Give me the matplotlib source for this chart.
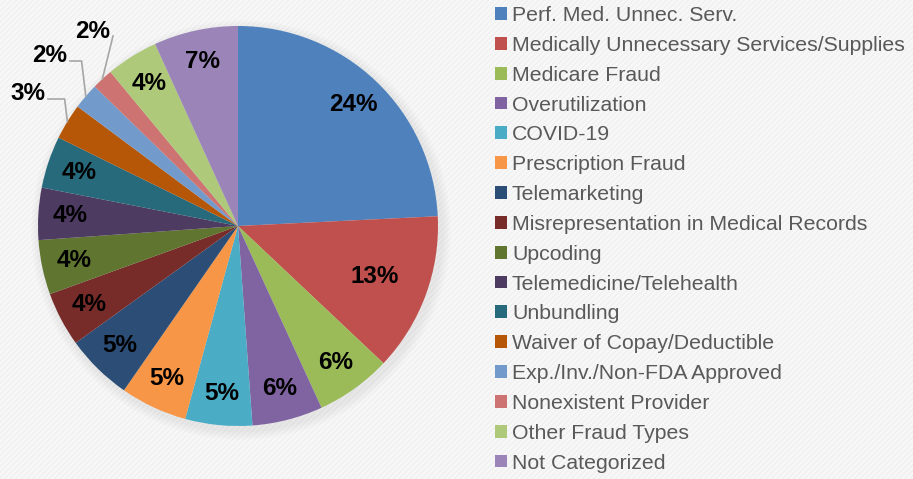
import matplotlib.pyplot as plt
import numpy as np
from matplotlib.patches import Rectangle, Circle

plt.rcParams['font.family'] = ['Liberation Sans', 'DejaVu Sans']
plt.rcParams['hatch.linewidth'] = 0.5
plt.rcParams['hatch.color'] = '#e9e9e9'

categories = ['Perf. Med. Unnec. Serv.', 'Medically Unnecessary Services/Supplies',
              'Medicare Fraud', 'Overutilization', 'COVID-19', 'Prescription Fraud',
              'Telemarketing', 'Misrepresentation in Medical Records', 'Upcoding',
              'Telemedicine/Telehealth', 'Unbundling', 'Waiver of Copay/Deductible',
              'Exp./Inv./Non-FDA Approved', 'Nonexistent Provider', 'Other Fraud Types',
              'Not Categorized']
shares = [24.2, 12.8, 6.1, 5.7, 5.4, 5.4, 5.4, 4.4, 4.4, 4.2, 4.2, 2.9, 2.1, 1.7, 4.2, 6.8]
colors = ['#4F81BD', '#C0504D', '#9BBB59', '#8064A2', '#4BACC6', '#F79646',
          '#2C4D75', '#772C2A', '#5F7530', '#4D3B62', '#276A7C', '#B65708',
          '#729ACA', '#CD7371', '#AFC97A', '#9A84B8']
# small slices get their labels outside with leader lines
outside = [11, 12, 13]
outside_pos = [(-1.05, 0.66), (-0.94, 0.85), (-0.725, 0.975)]

fig = plt.figure(figsize=(9.13, 4.79), dpi=100)
fig.patch.set_facecolor('#f6f6f6')
fig.patches.append(Rectangle((0, 0), 1, 1, transform=fig.transFigure,
                             facecolor='#f7f7f7', edgecolor='#ebebeb',
                             hatch='//////', linewidth=0, zorder=-10))

ax = fig.add_axes([38 / 913, 53 / 479, 400 / 913, 400 / 479])

# soft shadow
for i in range(4):
    ax.add_patch(Circle((0.015, -0.02), 1.0 + 0.012 * (i + 1), color='#808080',
                        alpha=0.03, lw=0, zorder=0, clip_on=False))

total = sum(shares)
wedges, texts = ax.pie(shares, colors=colors, startangle=90, counterclock=False,
                       radius=1, wedgeprops=dict(linewidth=0), labels=None)
for w in wedges:
    w.set_zorder(2)

ax.set_xlim(-1, 1)
ax.set_ylim(-1, 1)
ax.set_aspect('equal')
ax.axis('off')

k = 0
for i, w in enumerate(wedges):
    pct = '%d%%' % round(shares[i] / total * 100)
    mid = np.deg2rad((w.theta1 + w.theta2) / 2)
    if i in outside:
        tx, ty = outside_pos[k]
        k += 1
        ax.text(tx, ty, pct, ha='center', va='center', fontsize=17.5,
                fontweight='bold', color='black', zorder=5)
        ex, ey = np.cos(mid), np.sin(mid)
        sx, sy = tx + 0.1, ty - 0.025
        hx = max(sx, ex - 0.12 * abs(ey - sy))
        if ex - sx < 0.05:
            hx = sx
        ax.plot([sx, hx, ex], [sy, sy, ey], color='#a6a6a6', lw=1.2,
                zorder=4, clip_on=False)
    else:
        d = 0.73 if i == 1 else 0.84
        ax.text(d * np.cos(mid), d * np.sin(mid), pct, ha='center', va='center',
                fontsize=17.5, fontweight='bold', color='black', zorder=5)

fig.legend(wedges, categories, loc='upper left', bbox_to_anchor=(495 / 913, 1 - 6 / 479),
           frameon=False, fontsize=15.3, labelcolor='#595959', handlelength=0.55,
           handleheight=0.55, handletextpad=0.25, labelspacing=0.51, borderpad=0,
           borderaxespad=0)

fig.savefig('out.png', dpi=100, facecolor=fig.get_facecolor())
